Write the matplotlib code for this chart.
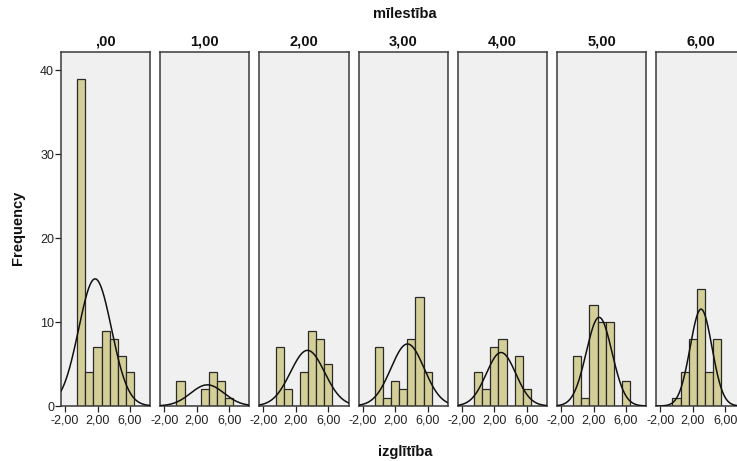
import numpy as np
import matplotlib
matplotlib.use("Agg")
import matplotlib.pyplot as plt

plt.rcParams['font.family'] = ['Liberation Sans', 'DejaVu Sans']

# Data: izglītība values 0..6 counts, per mīlestība group
values = [0, 1, 2, 3, 4, 5, 6]
groups = [",00", "1,00", "2,00", "3,00", "4,00", "5,00", "6,00"]
counts_g0 = [39, 4, 7, 9, 8, 6, 4]
counts_g1 = [3, 0, 0, 2, 4, 3, 1]
counts_g2 = [7, 2, 0, 4, 9, 8, 5]
counts_g3 = [7, 1, 3, 2, 8, 13, 4]
counts_g4 = [4, 2, 7, 8, 0, 6, 2]
counts_g5 = [6, 1, 12, 10, 10, 0, 3]
counts_g6 = [1, 4, 8, 14, 4, 8, 0]
all_counts = [counts_g0, counts_g1, counts_g2, counts_g3, counts_g4, counts_g5, counts_g6]

xticks = [-2, 2, 6]
xticklabels = ["-2,00", "2,00", "6,00"]
yticks = [0, 10, 20, 30, 40]

W, H = 737, 461
fig = plt.figure(figsize=(W / 100, H / 100), dpi=100)
fig.patch.set_facecolor("white")

left0 = 61
pw = 89.3
step = 99.2
top = 52
bottom = 406

bar_color = "#D4CF98"
edge_color = "#2a2a2a"
frame_color = "#3a3a3a"

for i, (g, cnts) in enumerate(zip(groups, all_counts)):
    x0 = left0 + i * step
    ax = fig.add_axes([x0 / W, 1 - bottom / H, pw / W, (bottom - top) / H])
    ax.set_facecolor("#F0F0F0")
    ax.bar(values, cnts, width=1.0, color=bar_color, edgecolor=edge_color,
           linewidth=0.9, zorder=2)
    data = np.repeat(values, cnts)
    n = len(data)
    mu = data.mean()
    sd = data.std(ddof=1)
    xs = np.linspace(-2.5, 8.5, 300)
    ys = n / (sd * np.sqrt(2 * np.pi)) * np.exp(-0.5 * ((xs - mu) / sd) ** 2)
    ax.plot(xs, ys, color="#111111", linewidth=1.1, zorder=3)
    ax.set_xlim(-2.5, 8.5)
    ax.set_ylim(0, 42.2)
    ax.set_xticks(xticks)
    ax.set_xticklabels(xticklabels, fontsize=9, color="#222222")
    ax.tick_params(axis="x", direction="out", length=4, width=0.9, pad=2,
                   colors="#222222")
    if i == 0:
        ax.set_yticks(yticks)
        ax.set_yticklabels([str(t) for t in yticks], fontsize=9, color="#222222")
        ax.tick_params(axis="y", direction="out", length=4, width=0.9, pad=1,
                       colors="#222222")
    else:
        ax.set_yticks([])
    for s in ax.spines.values():
        s.set_color(frame_color)
        s.set_linewidth(1.1)
    ax.set_title(g, fontsize=10.5, fontweight="bold", pad=5, color="#111111")

fig.text(405 / W, 1 - 14 / H, "mīlestība", ha="center", va="center",
         fontsize=10.5, fontweight="bold", color="#111111")
fig.text(405 / W, 1 - 452 / H, "izglītība", ha="center", va="center",
         fontsize=10.5, fontweight="bold", color="#111111")
fig.text(18 / W, 1 - 228 / H, "Frequency", ha="center", va="center",
         rotation=90, fontsize=10.5, fontweight="bold", color="#111111")

fig.savefig("out.png", dpi=100)
